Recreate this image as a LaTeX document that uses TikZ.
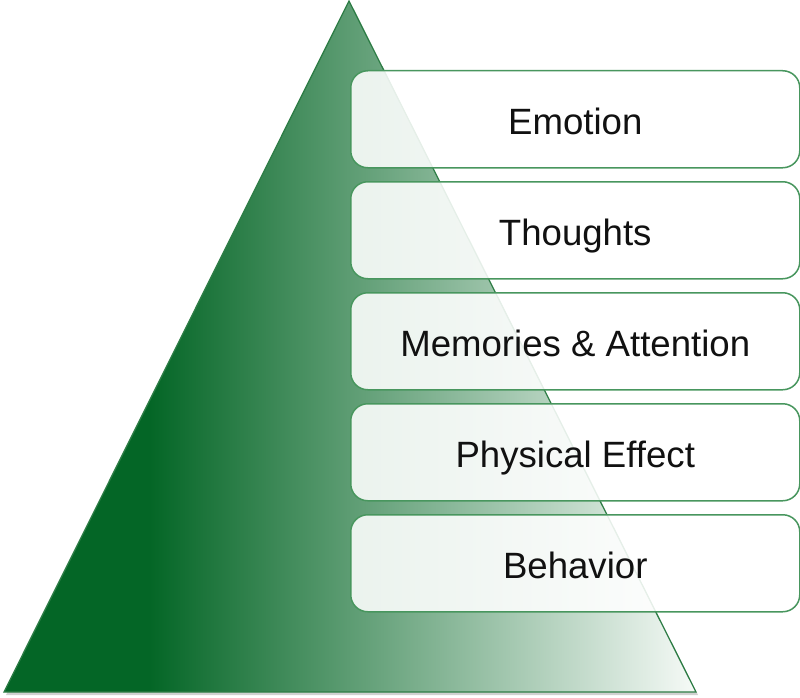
\documentclass[tikz,border=0pt]{standalone}
\usepackage{fontspec}
\setmainfont{Liberation Sans}
\definecolor{dkgreen}{RGB}{4,102,38}
\definecolor{ltend}{RGB}{246,250,247}
\definecolor{triline}{RGB}{46,125,70}
\definecolor{boxline}{RGB}{72,150,94}
\definecolor{txt}{RGB}{17,17,17}
\pgfdeclarehorizontalshading{trishade}{100bp}{color(0bp)=(dkgreen); color(35.5bp)=(dkgreen); color(75bp)=(ltend); color(100bp)=(ltend)}
\tikzset{
  layerbox/.style={draw=boxline, line width=1.5pt, rounded corners=17pt, fill=white, fill opacity=0.88, text opacity=1,
    minimum width=449pt, minimum height=97pt, inner sep=0pt, anchor=north west,
    text height=31pt, text depth=0pt,
    font=\fontsize{36.6pt}{40pt}\selectfont, text=txt}
}
\begin{document}
\begin{tikzpicture}[x=1pt,y=-1pt]
\useasboundingbox (0,0) rectangle (800,698);
% shadow
\fill[black, opacity=0.18] (350,3) -- (698,695) -- (6,695) -- cycle;
% triangle
\shade[shading=trishade, draw=triline, line width=1.3pt, line join=miter] (349,1) -- (696,692) -- (4,692) -- cycle;
% boxes
\node[layerbox] (emotion) at (350,70) {Emotion};
\node[layerbox] (thoughts) at (350,181) {Thoughts};
\node[layerbox] (memories) at (350,292) {Memories \& Attention};
\node[layerbox] (physical) at (350,403) {Physical Effect};
\node[layerbox] (behavior) at (350,514) {Behavior};
\end{tikzpicture}
\end{document}
